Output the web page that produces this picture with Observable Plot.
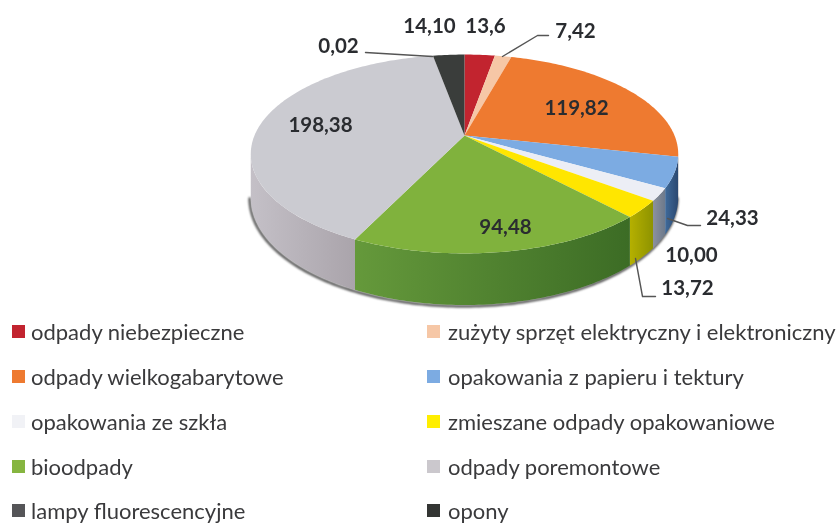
<!DOCTYPE html>
<html lang="pl">
<head>
<meta charset="utf-8">
<style>
html,body{margin:0;padding:0;background:#fff;overflow:hidden;width:838px;height:524px}
#page{position:relative;width:838px;height:524px;overflow:hidden;filter:blur(0.45px)}
#chart svg{display:block}
#legend{position:absolute;left:0;top:309.6px;width:838px;display:grid;grid-template-columns:427px 411px;grid-auto-rows:44.75px;font:22px Lato,sans-serif;color:#3a3a3c}
.item{display:flex;align-items:center;white-space:nowrap}
.sw{width:13px;height:13px;margin-right:6px;flex:none}
.item:nth-child(odd){padding-left:12px}
.item:nth-child(even) .sw{margin-right:8px}
</style>
<script src="https://cdn.jsdelivr.net/npm/d3@7"></script>
<script src="https://cdn.jsdelivr.net/npm/@observablehq/plot@0.6"></script>
</head>
<body>
<div id="page"><div id="chart"></div><div id="legend"></div></div>
<script>
// --- data ---
const categories = ["odpady niebezpieczne","zużyty sprzęt elektryczny i elektroniczny","odpady wielkogabarytowe","opakowania z papieru i tektury","opakowania ze szkła","zmieszane odpady opakowaniowe","bioodpady","odpady poremontowe","lampy fluorescencyjne","opony"];
const values = [13.6,7.42,119.82,24.33,10.00,13.72,94.48,198.38,0.02,14.10];
const valueLabels = ["13,6","7,42","119,82","24,33","10,00","13,72","94,48","198,38","0,02","14,10"];
const topColors = ["#c2242f","#f6c7a6","#ee7a30","#7cabe2","#eceef5","#ffe600","#80b23d","#cbcbd1","#555558","#3a3d3b"];
const legendColors = ["#c2242f","#f6c7a6","#ee7a30","#7cabe2","#f1f2f6","#ffee00","#86b540","#cbc8cd","#555558","#333533"];
const wallStops = [["#a31c26","#a31c26"],["#c9a080","#c9a080"],["#a9551f","#8f4719"],["#3f6a9a","#2b4870"],["#8c919d","#6c798b"],["#b5b000","#8e9300"],["#65993b","#3c6c25"],["#c4c0c7","#aaa4ab"],["#444","#444"],["#222","#222"]];

// --- layout (separate from the data) ---
const W = 838, H = 311;
const cx = 464, cy = 135, R = 210, K = 96, P = 0.186, D = 42;
const labelPos = [[485,26],[575,31],[576,108],[732,218],[691,255],[687,288],[505,227],[320,125],[338,46],[429,26]];
const leaders = [
  {v:"0,02",pts:[[365,52],[432,56]]},
  {v:"7,42",pts:[[502,56],[537,35],[548,35]]},
  {v:"24,33",pts:[[667,218],[687,225],[700,225]]},
  {v:"13,72",pts:[[635,258],[642,296],[655,296]]}
];

// --- geometry from values ---
const total = d3.sum(values);
let acc = 0;
const slices = values.map((v,i)=>{const a0=acc/total*360; acc+=v; return {i,key:categories[i],a0,a1:acc/total*360};});
const proj = (deg,r=1,z=0)=>{
  const t=deg*Math.PI/180, u=r*Math.sin(t), v=r*Math.cos(t), w=1+P*v;
  return {x:cx+R*u/w, y:cy+(-K*v+z)/w};
};
const range = (a0,a1)=>{const n=Math.max(1,Math.ceil(a1-a0)); return d3.range(n+1).map(j=>a0+(a1-a0)*j/n);};
const tanR = Math.acos(-P)*180/Math.PI, tanL = 360-tanR;

const topPts = slices.flatMap(s=>[
  {...proj(0,0),key:s.key,fill:topColors[s.i]},
  ...range(s.a0,s.a1).map(a=>({...proj(a),key:s.key,fill:topColors[s.i]}))
]);
const wallPts = slices.flatMap(s=>{
  const a0=Math.max(s.a0,tanR), a1=Math.min(s.a1,tanL);
  if(a1<=a0) return [];
  const arc=range(a0,a1), fill=`url(#wall${s.i})`;
  return [...arc.map(a=>({...proj(a),key:s.key,fill})),...arc.slice().reverse().map(a=>({...proj(a,1,D),key:s.key,fill}))];
});
const shadowPts = range(tanR,tanL).map(a=>{const p=proj(a,1,D+1);return {x:p.x-1,y:p.y};});
const labels = slices.map(s=>({t:valueLabels[s.i],x:labelPos[s.i][0],y:labelPos[s.i][1]}));
const leaderPts = leaders.flatMap(l=>l.pts.map(p=>({v:l.v,x:p[0],y:p[1]})));

const defs = ()=>{
  const d=d3.create("svg:defs");
  wallStops.forEach((st,i)=>{
    const g=d.append("linearGradient").attr("id",`wall${i}`).attr("x1",0).attr("x2",1).attr("y1",0).attr("y2",0);
    g.append("stop").attr("offset",0).attr("stop-color",st[0]);
    g.append("stop").attr("offset",1).attr("stop-color",st[1]);
  });
  return d.node();
};

const plot = Plot.plot({
  width:W,height:H,margin:0,
  x:{domain:[0,W],range:[0,W],axis:null},
  y:{domain:[0,H],range:[0,H],axis:null},
  marks:[
    defs,
    Plot.line(shadowPts,{x:"x",y:"y",stroke:"#4a4a4a",strokeWidth:2.5,imageFilter:"blur(1px)"}),
    Plot.line(wallPts,{x:"x",y:"y",z:"key",fill:{value:"fill",scale:null},stroke:null}),
    Plot.line(topPts,{x:"x",y:"y",z:"key",fill:{value:"fill",scale:null},stroke:null}),
    Plot.line(leaderPts,{x:"x",y:"y",z:"v",stroke:"#555",strokeWidth:1.4}),
    Plot.text(labels,{x:"x",y:"y",text:"t",fontSize:20.5,fontWeight:700,fontFamily:"Lato, sans-serif",fill:"#2a2c30"})
  ]
});
document.getElementById("chart").append(plot);

const legend=document.getElementById("legend");
categories.forEach((c,i)=>{
  const it=document.createElement("div");it.className="item";
  const sw=document.createElement("span");sw.className="sw";sw.style.background=legendColors[i];
  it.append(sw,document.createTextNode(c));legend.append(it);
});
</script>
</body>
</html>
